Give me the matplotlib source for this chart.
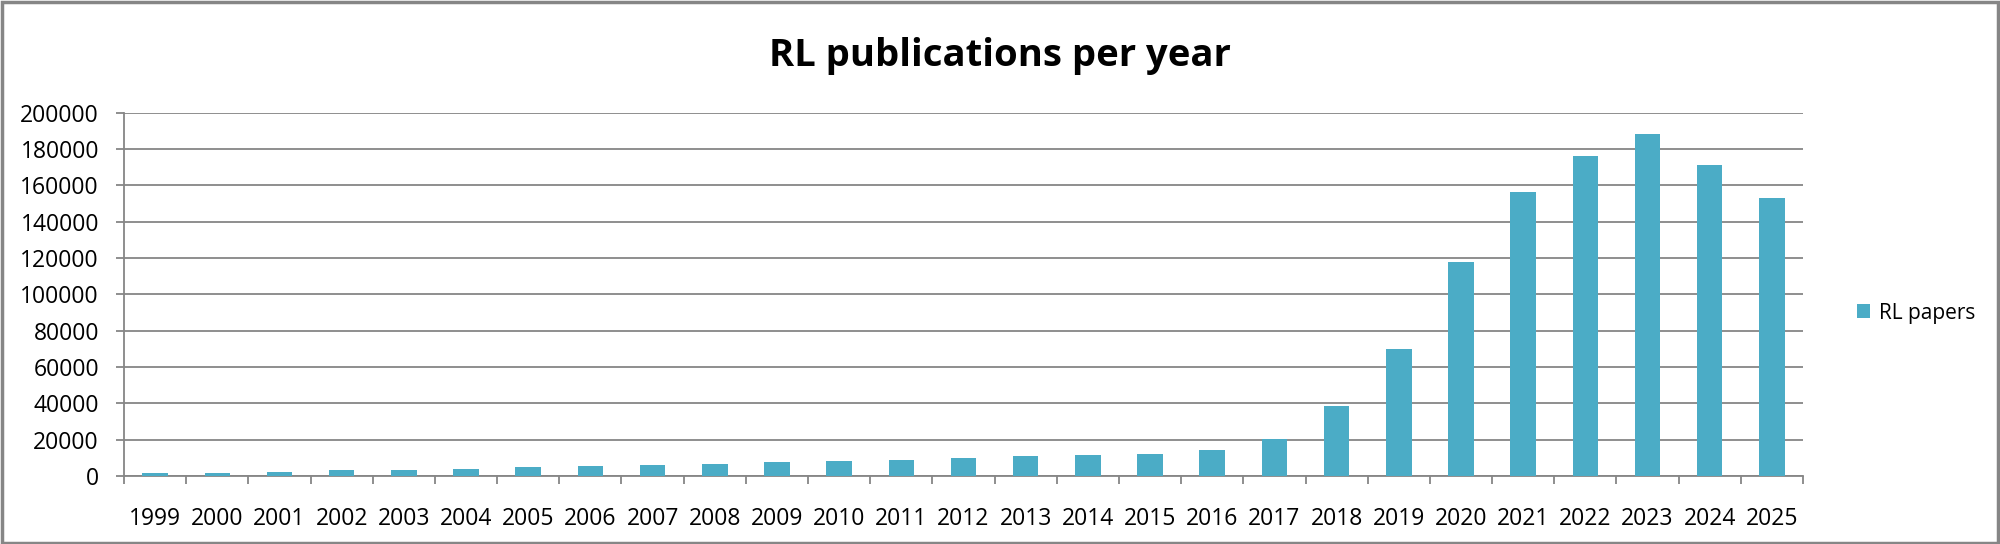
import matplotlib
matplotlib.use("Agg")
import matplotlib.pyplot as plt
from matplotlib.patches import Rectangle, Patch
import numpy as np

years = [str(y) for y in range(1999, 2026)]
rl_papers = [1650, 1700, 2200, 3300, 3400, 3850, 4950, 5500, 6050, 6800,
             7700, 8250, 8800, 9900, 10800, 11400, 12300, 14500, 20200, 38500,
             69900, 117800, 156200, 176200, 188300, 171000, 152900]
y_ticks = list(range(0, 200001, 20000))
title = "RL publications per year"
series_name = "RL papers"

BAR = "#4BACC6"
GRID = "#868686"
FONT = "Open Sans"

dpi = 100
fig = plt.figure(figsize=(20, 5.44), dpi=dpi)
W, H = 2000, 544
ax = fig.add_axes([124 / W, 1 - 476 / H, (1803 - 124) / W, (476 - 112.5) / H])

x = np.arange(len(years))
ax.bar(x, rl_papers, width=0.41, color=BAR, zorder=3)

ax.set_xlim(-0.5, len(years) - 0.5)
ax.set_ylim(0, 200000)
ax.set_yticks(y_ticks)
ax.set_yticklabels([str(v) for v in y_ticks], fontsize=16.5, family=FONT)
ax.yaxis.grid(True, color=GRID, linewidth=1.3, zorder=0)
ax.set_axisbelow(True)

ax.set_xticks(x)
ax.set_xticklabels(years, fontsize=16.5, family=FONT)
ax.set_xticks(np.arange(-0.5, len(years)), minor=True)
ax.tick_params(axis="x", which="major", length=0, pad=22)
ax.tick_params(axis="x", which="minor", length=6, width=1.3, color=GRID, direction="out")
ax.tick_params(axis="y", length=6, width=1.3, color=GRID, pad=12)

for s in ["top", "right"]:
    ax.spines[s].set_visible(False)
for s in ["left", "bottom"]:
    ax.spines[s].set_color(GRID)
    ax.spines[s].set_linewidth(1.3)

fig.text(1000 / W, 1 - 56 / H, title, ha="center", va="center",
         fontsize=27.5, fontweight="bold", family=FONT)

leg = fig.legend(handles=[Patch(facecolor=BAR, edgecolor="none", label=series_name)],
                 loc="center left", bbox_to_anchor=(1838 / W, 1 - 313 / H),
                 frameon=False, prop={"family": FONT, "size": 15},
                 handlelength=0.65, handleheight=0.65, handletextpad=0.4)

fig.patches.append(Rectangle((0.0008, 0.002), 0.9984, 0.995, transform=fig.transFigure,
                             fill=False, edgecolor=GRID, linewidth=2.5))

fig.savefig("out.png", dpi=dpi, facecolor="white")
